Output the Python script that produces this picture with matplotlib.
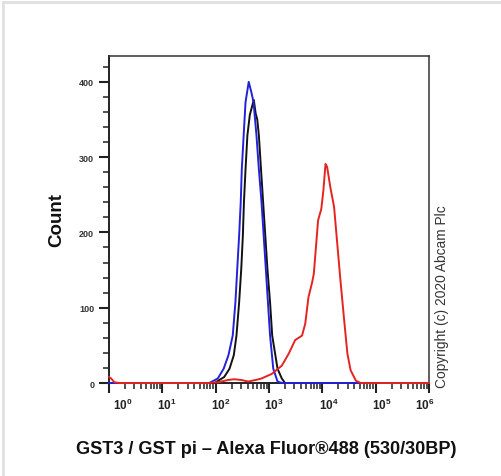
import numpy as np
import matplotlib
matplotlib.use('Agg')
import matplotlib.pyplot as plt
from matplotlib.ticker import MultipleLocator, LogLocator, NullFormatter
from matplotlib.transforms import ScaledTranslation
from matplotlib.lines import Line2D

plt.rcParams['font.family'] = ['Liberation Sans', 'DejaVu Sans']
plt.rcParams['mathtext.fontset'] = 'custom'
plt.rcParams['mathtext.rm'] = 'Liberation Sans:bold'
plt.rcParams['mathtext.it'] = 'Liberation Sans:bold'
plt.rcParams['mathtext.bf'] = 'Liberation Sans:bold'

# histogram outlines, x given as log10(intensity), y as count
blue_log = [0.0, 1.88, 2.04, 2.15, 2.24, 2.32, 2.37, 2.405, 2.44, 2.47, 2.49,
            2.525, 2.56, 2.62, 2.67, 2.71, 2.765, 2.81, 2.86, 2.90, 2.94,
            2.98, 3.02, 3.08, 3.16, 3.24, 6.0]
blue_cnt = [0, 0, 6, 19, 37, 63, 107, 152, 196, 240, 284,
            329, 373, 400, 386, 373, 329, 284, 240, 196, 152,
            107, 63, 19, 2, 0, 0]

black_log = [0.0, 1.98, 2.16, 2.26, 2.34, 2.39, 2.44, 2.48, 2.51, 2.53, 2.56,
             2.595, 2.64, 2.715, 2.75, 2.78, 2.81, 2.85, 2.89, 2.93, 2.97,
             3.02, 3.06, 3.16, 3.24, 3.30, 6.0]
black_cnt = [0, 0, 8, 19, 37, 63, 107, 152, 196, 240, 284,
             329, 356, 376, 358, 350, 329, 284, 240, 196, 152,
             107, 63, 19, 6, 0, 0]

red_log = [0.0, 0.04, 0.1, 0.2, 1.85, 2.05, 2.23, 2.35, 2.48, 2.61, 2.75, 2.86,
           3.05, 3.24, 3.37, 3.49, 3.62, 3.68, 3.74, 3.81, 3.84, 3.88, 3.92,
           3.98, 4.02, 4.06, 4.09, 4.15, 4.22, 4.28, 4.34, 4.41, 4.47, 4.53,
           4.63, 4.72, 6.0]
red_cnt = [8, 6, 1, 0, 0, 1, 4, 5, 4, 2, 4, 6,
           12, 23, 39, 57, 63, 79, 114, 134, 145, 180, 216,
           231, 256, 291, 287, 260, 234, 185, 136, 83, 39, 17,
           3, 0, 0]

decades = [0, 1, 2, 3, 4, 5, 6]
label_shift_px = [14, 4, 5, 5, 7, 6, -4]

fig = plt.figure(figsize=(5.02, 4.77), dpi=100)
W, H = 502, 477
ax = fig.add_axes([109 / W, 1 - 384 / H, (429 - 109) / W, (384 - 56.5) / H])

lw = 1.4
ax.plot(10 ** np.array(black_log), black_cnt, color='#111111', lw=lw, clip_on=False, zorder=3)
ax.plot(10 ** np.array(blue_log), blue_cnt, color='#2222d8', lw=lw, clip_on=False, zorder=3)
ax.plot(10 ** np.array(red_log), red_cnt, color='#e52421', lw=lw, clip_on=False, zorder=4)

ax.set_xscale('log')
ax.set_xlim(1, 1e6)
ax.set_ylim(0, 435)

ax.set_xticks([10.0 ** d for d in decades])
ax.set_xticklabels([r'$10^{%d}$' % d for d in decades])
ax.xaxis.set_minor_locator(LogLocator(base=10, subs=np.arange(2, 10)))
ax.xaxis.set_minor_formatter(NullFormatter())
ax.yaxis.set_major_locator(MultipleLocator(100))
ax.yaxis.set_minor_locator(MultipleLocator(20))

ax.tick_params(axis='both', which='major', length=7.2, width=1.5, color='#222222')
ax.tick_params(axis='both', which='minor', length=4, width=1.1, color='#222222')
ax.tick_params(axis='x', which='major', labelsize=8.5, pad=3, labelcolor='#222222')
ax.tick_params(axis='y', which='major', labelsize=6.5, pad=3.5, labelcolor='#333333')
for lab in ax.get_yticklabels():
    lab.set_fontweight('bold')

for lab, dx in zip(ax.get_xticklabels(), label_shift_px):
    lab.set_transform(lab.get_transform() + ScaledTranslation(dx / 100, 0, fig.dpi_scale_trans))

for side in ['top', 'right']:
    ax.spines[side].set_linewidth(1.1)
    ax.spines[side].set_color('#333333')
for side in ['left', 'bottom']:
    ax.spines[side].set_linewidth(1.4)
    ax.spines[side].set_color('#222222')

fig.text(56.5 / W, 1 - 220 / H, 'Count', rotation=90, ha='center', va='center',
         fontsize=13.5, fontweight='bold', color='#111111')
fig.text(266.5 / W, 1 - 450 / H, 'GST3 / GST pi \u2013 Alexa Fluor\u00ae488 (530/30BP)',
         ha='center', va='center', fontsize=13.1, fontweight='bold', color='#111111')
fig.text(442 / W, 1 - 388 / H, 'Copyright (c) 2020 Abcam Plc', rotation=90,
         ha='center', va='bottom', fontsize=9.9, color='#333333')

# light frame on the left and top edges
fig.add_artist(Line2D([3 / W, 3 / W], [0, 1 - 3 / H], transform=fig.transFigure,
                      color='#e0e0e0', lw=2))
fig.add_artist(Line2D([3 / W, 1], [1 - 3 / H, 1 - 3 / H], transform=fig.transFigure,
                      color='#e0e0e0', lw=2))

fig.savefig('out.png', dpi=100)
